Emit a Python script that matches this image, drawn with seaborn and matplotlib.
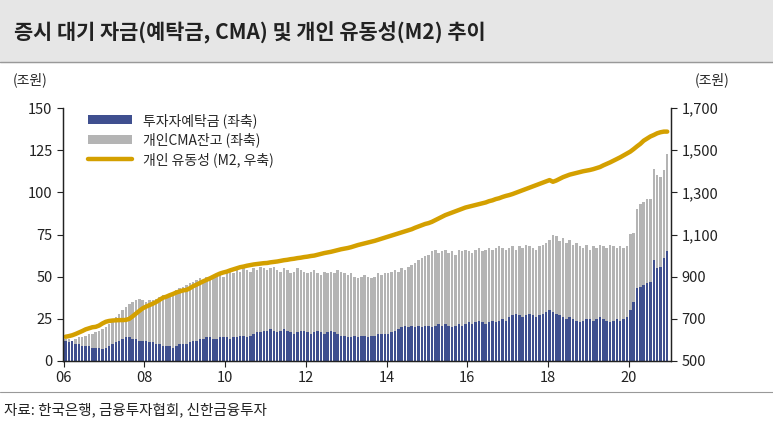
import numpy as np
import matplotlib
matplotlib.use("Agg")
import matplotlib.pyplot as plt
import seaborn as sns

sns.set_theme(style="white")
plt.rcParams["font.family"] = ["Noto Sans CJK KR", "Noto Sans CJK JP", "Noto Sans CJK SC", "DejaVu Sans"]

deposit = [12,11,12,10,10,9,9,9,8,8,8,7,
           8,9,10,11,12,13,14,14,13,13,12,12,
           12,11,11,10,10,9,9,9,8,9,10,10,
           10,11,12,12,13,13,14,14,13,13,14,14,
           14,13,14,14,15,15,14,15,16,17,17,18,
           18,19,18,17,18,19,18,17,16,17,18,18,
           17,16,17,18,17,16,17,18,17,16,15,15,
           14,14,15,14,15,15,14,15,15,16,16,16,
           16,17,18,19,20,21,20,21,20,21,20,21,
           21,20,21,22,21,22,21,20,21,22,21,22,
           23,22,23,24,23,22,23,24,23,24,25,24,
           26,27,28,27,26,27,28,27,26,27,28,29,
           30,29,28,27,26,25,26,25,24,23,24,25,
           25,24,25,26,25,24,23,24,25,24,25,26,
           30,35,43,44,45,46,47,60,55,56,61,65]
stack_total = [13,13,12,13,14,14,15,16,16,17,18,19,
               20,22,24,26,28,30,32,34,35,36,37,36,
               35,36,36,37,38,39,38,40,41,42,43,44,
               45,46,47,48,49,48,50,50,51,51,52,50,
               52,53,52,54,53,55,54,53,55,54,56,55,
               54,55,56,54,53,55,54,52,53,55,54,53,
               52,53,54,52,51,53,52,53,52,54,53,52,
               51,52,50,49,50,51,50,49,50,52,51,52,
               52,53,54,53,55,54,56,57,58,60,61,62,
               63,65,66,64,65,66,64,65,63,66,65,66,
               65,64,66,67,65,66,67,66,67,68,67,66,
               67,68,66,68,67,69,68,67,66,68,69,70,
               72,75,74,71,73,70,72,69,70,68,67,69,
               66,68,67,69,68,67,69,68,67,68,67,68,
               75,76,90,93,94,96,96,114,110,109,113,123]
m2 = [615,618,622,628,635,642,650,655,660,662,668,678,
      686,690,692,693,694,694,695,700,712,725,738,750,
      758,765,772,780,790,800,805,812,818,825,830,835,
      837,845,855,862,870,878,885,892,900,908,915,920,
      924,930,935,940,945,948,952,955,958,960,962,964,
      965,968,970,972,975,978,980,983,985,988,990,993,
      995,998,1000,1004,1008,1012,1015,1018,1022,1026,1030,1033,
      1036,1040,1045,1050,1054,1058,1062,1066,1070,1075,1080,1085,
      1090,1095,1100,1105,1110,1115,1120,1125,1132,1138,1144,1150,
      1154,1160,1168,1176,1184,1192,1198,1204,1210,1216,1222,1228,
      1232,1236,1240,1244,1248,1252,1258,1262,1268,1272,1278,1283,
      1287,1292,1298,1304,1310,1316,1322,1328,1334,1340,1346,1352,
      1358,1350,1356,1364,1372,1378,1384,1388,1392,1396,1400,1403,
      1406,1410,1415,1420,1428,1435,1442,1450,1458,1466,1475,1484,
      1493,1505,1518,1530,1545,1555,1565,1572,1580,1585,1588,1588]
xtick_years = [2006, 2008, 2010, 2012, 2014, 2016, 2018, 2020]
xtick_labels = ["06", "08", "10", "12", "14", "16", "18", "20"]

dep = np.array(deposit, float)
cma = np.array(stack_total, float) - dep
t = 2006 + np.arange(len(dep)) / 12 + 0.04

fig = plt.figure(figsize=(7.73, 4.33), dpi=100)
W, H = 773, 433
fig.patches.append(plt.Rectangle((0, 1 - 62 / H), 1, 62 / H, transform=fig.transFigure,
                                 color="#E6E6E6", zorder=0))
fig.add_artist(plt.Line2D([0, 1], [1 - 62 / H] * 2, color="#999999", lw=1))
fig.text(14 / W, 1 - 33 / H, "증시 대기 자금(예탁금, CMA) 및 개인 유동성(M2) 추이",
         fontsize=15, fontweight="bold", va="center", color="#222222")
fig.add_artist(plt.Line2D([0, 1], [1 - 392 / H] * 2, color="#999999", lw=0.8))
fig.text(4 / W, 1 - 410 / H, "자료: 한국은행, 금융투자협회, 신한금융투자", fontsize=10.5,
         va="center", color="#222222")
fig.text(30 / W, 1 - 80 / H, "(조원)", fontsize=10, va="center", ha="center")
fig.text(712 / W, 1 - 80 / H, "(조원)", fontsize=10, va="center", ha="center")

ax = fig.add_axes([63 / W, 1 - 361 / H, (671 - 63) / W, (361 - 108) / H])
ax.bar(t, dep, width=0.062, color="#3F4F8F", linewidth=0, label="투자자예탁금 (좌축)", zorder=2)
ax.bar(t, cma, width=0.062, bottom=dep, color="#B4B4B4", linewidth=0,
       label="개인CMA잔고 (좌축)", zorder=2)
ax.set_ylim(0, 150)
ax.set_yticks(range(0, 151, 25))
ax.set_xlim(2005.98, 2021.05)
ax.set_xticks(xtick_years)
ax.set_xticklabels(xtick_labels)
ax.tick_params(axis="both", labelsize=10.5, direction="out", length=4, width=0.8,
               left=True, bottom=True, colors="#222222")
ax.spines["top"].set_visible(False)
for s in ["left", "bottom", "right"]:
    ax.spines[s].set_color("#222222")
    ax.spines[s].set_linewidth(0.9)

ax2 = ax.twinx()
sns.lineplot(x=t, y=m2, ax=ax2, color="#D4A000", lw=3.2, label="개인 유동성 (M2, 우축)", legend=False)
ax2.set_ylim(500, 1700)
ax2.set_yticks(range(500, 1701, 200))
ax2.set_yticklabels([f"{v:,}" for v in range(500, 1701, 200)])
ax2.tick_params(axis="y", labelsize=10.5, direction="out", length=4, width=0.8, right=True,
                colors="#222222")
ax2.spines["top"].set_visible(False)
for s in ["left", "bottom", "right"]:
    ax2.spines[s].set_color("#222222")
    ax2.spines[s].set_linewidth(0.9)

h1, l1 = ax.get_legend_handles_labels()
h2, l2 = ax2.get_legend_handles_labels()
ax2.legend(h1 + h2, l1 + l2, loc="upper left", bbox_to_anchor=(0.02, 1.03), frameon=False,
           fontsize=10, handlelength=3.2, handleheight=0.6, labelspacing=0.35)

fig.savefig("out.png", dpi=100)
